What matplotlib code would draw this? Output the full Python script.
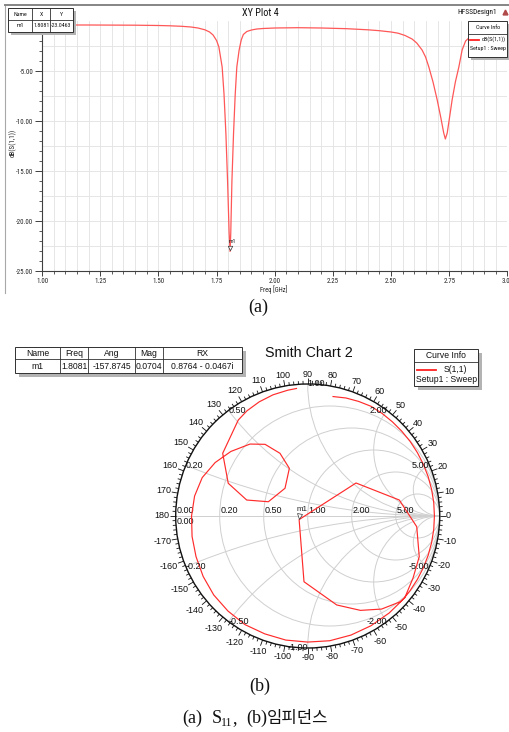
import numpy as np
import matplotlib
matplotlib.use("Agg")
import matplotlib.pyplot as plt
from matplotlib import font_manager
from matplotlib.patches import Circle, Rectangle
from matplotlib.collections import LineCollection
from matplotlib.ticker import MultipleLocator, FormatStrFormatter, FuncFormatter
from matplotlib.transforms import offset_copy

# ---------------- data ----------------
freq_ghz = [1.00, 1.10, 1.20, 1.30, 1.40, 1.50, 1.55, 1.60, 1.64, 1.67, 1.70, 1.72,
            1.735, 1.75, 1.76, 1.774, 1.782, 1.790, 1.797, 1.804, 1.8081, 1.811,
            1.816, 1.823, 1.830, 1.837, 1.847, 1.856, 1.865, 1.88, 1.90, 1.923,
            1.95, 2.00, 2.10, 2.20, 2.31, 2.40, 2.45, 2.50, 2.53, 2.56, 2.59, 2.61,
            2.633, 2.648, 2.662, 2.68, 2.698, 2.713, 2.726, 2.733, 2.741, 2.750,
            2.762, 2.776, 2.791, 2.805, 2.82, 2.85, 2.90, 2.95, 3.00]
s11_db = [-0.40, -0.40, -0.40, -0.41, -0.42, -0.45, -0.48, -0.53, -0.60, -0.70, -0.88, -1.10,
          -1.40, -1.95, -2.60, -4.60, -7.30, -11.2, -15.8, -21.2, -23.0463, -21.2,
          -16.0, -11.2, -7.4, -4.6, -2.9, -1.9, -1.35, -1.05, -0.90, -0.80,
          -0.75, -0.70, -0.67, -0.70, -0.77, -0.88, -0.97, -1.10, -1.22, -1.45, -1.80, -2.20,
          -2.90, -3.60, -4.60, -6.1, -7.9, -9.6, -11.2, -11.8, -11.2, -9.8,
          -7.9, -6.1, -4.6, -2.9, -2.0, -1.35, -0.95, -0.70, -0.55]
marker_name = "m1"
marker_freq = 1.8081
marker_db = -23.0463

# S11 trajectory on the Smith chart (reflection coefficient, real / imaginary)
smith_re = [0.192, 0.290, 0.386, 0.480, 0.564, 0.642, 0.713, 0.777, 0.831, 0.877, 0.913,
            0.939, 0.955, 0.960, 0.955, 0.939, 0.913, 0.877, 0.831, 0.777, 0.735, 0.700,
            0.560, 0.400, 0.220, -0.028, -0.065, 0.366, 0.694, 0.826, 0.845, 0.798, 0.735,
            0.617, 0.480, 0.328, 0.167, 0.000, -0.166, -0.325, -0.475, -0.604, -0.712,
            -0.792, -0.846, -0.876, -0.880, -0.857, -0.799, -0.701, -0.582, -0.437,
            -0.323, -0.210, -0.139, -0.172, -0.298, -0.462, -0.602, -0.644, -0.526,
            -0.460, -0.367, -0.263, -0.151, -0.085]
smith_im = [0.905, 0.894, 0.868, 0.831, 0.777, 0.713, 0.642, 0.564, 0.480, 0.390, 0.297,
            0.200, 0.100, 0.000, -0.100, -0.200, -0.297, -0.390, -0.480, -0.564, -0.617, -0.650,
            -0.705, -0.715, -0.674, -0.498, -0.027, 0.250, 0.121, -0.081, -0.308, -0.470, -0.620,
            -0.735, -0.831, -0.902, -0.945, -0.955, -0.940, -0.893, -0.823, -0.720, -0.598,
            -0.458, -0.308, -0.155, 0.000, 0.151, 0.291, 0.405, 0.489, 0.545,
            0.543, 0.475, 0.361, 0.210, 0.108, 0.121, 0.248, 0.475, 0.727,
            0.797, 0.865, 0.918, 0.953, 0.966]
marker_ang_deg = -157.8745
marker_mag = 0.0704

r_circles = [0.2, 0.5, 1.0, 2.0, 5.0]
x_arcs = [0.2, 0.5, 1.0, 2.0, 5.0, -0.2, -0.5, -1.0, -2.0, -5.0]
angle_marks = list(range(-170, 181, 10))

# ---------------- fonts ----------------
def pick(*names):
    for n in names:
        try:
            font_manager.findfont(font_manager.FontProperties(family=n), fallback_to_default=False)
            return n
        except Exception:
            continue
    return "DejaVu Sans"

NARROW = pick("Liberation Sans Narrow", "Arial Narrow", "Roboto Condensed", "Liberation Sans")
ARIAL = pick("Liberation Sans", "Arial", "DejaVu Sans")
SERIF = pick("Liberation Serif", "Times New Roman", "DejaVu Serif")
KOR = pick("Noto Sans CJK KR", "Noto Sans CJK SC", "DejaVu Sans")

W, H = 510, 732
fig = plt.figure(figsize=(W / 100, H / 100), dpi=100)
fig.patch.set_facecolor("white")
rend = fig.canvas.get_renderer()


def size_for(s, family, target_w, ref=10.0):
    t = fig.text(0, 0, s, fontsize=ref, family=family)
    w = t.get_window_extent(rend).width
    t.remove()
    return ref * target_w / w


# ---------------- (a) XY plot ----------------
ax = fig.add_axes([42 / W, 1 - 271 / H, (507.5 - 42) / W, 250 / H])
ax.set_xlim(1.0, 3.0)
ax.set_ylim(-25, 0)
ax.xaxis.set_major_locator(MultipleLocator(0.25))
ax.xaxis.set_minor_locator(MultipleLocator(0.05))
ax.yaxis.set_major_locator(MultipleLocator(5))
ax.yaxis.set_minor_locator(MultipleLocator(1))
ax.xaxis.set_major_formatter(FormatStrFormatter("%.2f"))
# the 0.00 label sits under the marker table in the reference, so it is not shown
ax.yaxis.set_major_formatter(FuncFormatter(lambda v, p: "" if abs(v) < 1e-9 else f"{v:.2f}"))
for xv in np.arange(1.05, 3.0, 0.05):
    ax.axvline(xv, color="#e2e2e2", lw=0.6, zorder=0)
for yv in np.arange(-22.5, 0, 2.5):
    ax.axhline(yv, color="#e2e2e2", lw=0.6, zorder=0)
for s in ["top", "right"]:
    ax.spines[s].set_visible(False)
for s in ["left", "bottom"]:
    ax.spines[s].set_color("#404040")
    ax.spines[s].set_linewidth(0.8)
tick_fs = size_for("-25.00", NARROW, 17.0)
ax.tick_params(which="both", direction="out", color="#404040", labelsize=tick_fs,
               labelcolor="#222222", labelfontfamily=NARROW)
ax.tick_params(axis="y", which="major", length=5, width=0.7, pad=1.2)
ax.tick_params(axis="y", which="minor", length=2.5, width=0.6)
ax.tick_params(axis="x", which="major", length=3.5, width=0.7, pad=1.8)
ax.tick_params(axis="x", which="minor", length=2, width=0.6)

ax.plot(freq_ghz, s11_db, color="#ff5757", lw=0.9, zorder=3)
tr = offset_copy(ax.transData, fig=fig, x=0, y=2.2, units="points")
ax.plot([marker_freq], [marker_db], marker="v", ms=3.2, mfc="white", mec="#333333",
        mew=0.5, transform=tr, zorder=4, clip_on=False)
ax.annotate(marker_name, (marker_freq, marker_db), xytext=(-1.2, 5.5),
            textcoords="offset points", ha="left", va="bottom",
            fontsize=tick_fs * 0.85, family=NARROW, color="#222222")

# ---------------- (b) Smith chart ----------------
CX, CY, RP = 307.7, 516.0, 132.0
L, Rr, T, B = 140, 480, 366, 672
sx = fig.add_axes([L / W, 1 - B / H, (Rr - L) / W, (B - T) / H])
sx.set_xlim((L - CX) / RP, (Rr - CX) / RP)
sx.set_ylim((CY - B) / RP, (CY - T) / RP)
sx.axis("off")
sx.patch.set_alpha(0)

gc = "#cfcfcf"
clip = Circle((0, 0), 1.0, transform=sx.transData)
for r in r_circles:
    c = Circle((r / (1 + r), 0), 1 / (1 + r), fill=False, ec=gc, lw=0.7, zorder=1)
    sx.add_patch(c)
for xv in x_arcs:
    c = Circle((1, 1 / xv), 1 / abs(xv), fill=False, ec=gc, lw=0.7, zorder=1)
    sx.add_patch(c)
    c.set_clip_path(clip)
sx.plot([-1, 1], [0, 0], color=gc, lw=0.7, zorder=1)
sx.add_patch(Circle((0, 0), 1.0, fill=False, ec="#111111", lw=1.0, zorder=3))

segs = []
for d in range(0, 360, 2):
    t = np.deg2rad(d)
    ln = 6.0 if d % 10 == 0 else 3.2
    r2 = 1 + ln / RP
    segs.append([(np.cos(t), np.sin(t)), (r2 * np.cos(t), r2 * np.sin(t))])
sx.add_collection(LineCollection(segs, colors="#111111", linewidths=0.6, zorder=3, clip_on=False))

lab_fs = 6.5
ang_texts = []
for a in angle_marks:
    t = np.deg2rad(a)
    tx = sx.text(np.cos(t) * 1.09, np.sin(t) * 1.09, f"{a}", ha="center", va="center",
                 fontsize=lab_fs, family=ARIAL, color="#111111")
    ang_texts.append((tx, t))
for tx, t in ang_texts:
    bb = tx.get_window_extent(rend)
    d = 138.0 + 0.5 * (bb.width * abs(np.cos(t)) + bb.height * 0.8 * abs(np.sin(t)))
    tx.set_position((np.cos(t) * d / RP, np.sin(t) * d / RP))

for r in r_circles:
    g = (r - 1) / (r + 1)
    sx.annotate(f"{r:.2f}", (g, 0), xytext=(0.8, 1.0), textcoords="offset points",
                ha="left", va="bottom", fontsize=lab_fs, family=ARIAL, color="#111111")
sx.annotate("0.00", (-1, 0), xytext=(0.5, 1.0), textcoords="offset points",
            ha="left", va="bottom", fontsize=lab_fs, family=ARIAL, color="#111111")
sx.annotate("0.00", (-1, 0), xytext=(0.5, -0.5), textcoords="offset points",
            ha="left", va="top", fontsize=lab_fs, family=ARIAL, color="#111111")
for xv in x_arcs:
    z = complex(0, xv)
    g = (z - 1) / (z + 1)
    if xv > 0:
        ha = "left" if xv <= 1 else "right"
    else:
        ha = "left" if abs(xv) < 1 else "right"
    sx.text(g.real, g.imag, f"{xv:.2f}", ha=ha, va="center", fontsize=lab_fs,
            family=ARIAL, color="#111111", zorder=6)

sx.plot(smith_re, smith_im, color="#ff2b2b", lw=0.85, zorder=5)
gm = marker_mag * np.exp(1j * np.deg2rad(marker_ang_deg))
tr2 = offset_copy(sx.transData, fig=fig, x=0, y=2.2, units="points")
sx.plot([gm.real], [gm.imag], marker="v", ms=3.6, mfc="white", mec="#333333", mew=0.5,
        transform=tr2, zorder=7)
sx.annotate(marker_name, (gm.real, gm.imag), xytext=(1.8, 5.0), textcoords="offset points",
            ha="center", va="bottom", fontsize=5.8, family=ARIAL, color="#222222")

# ---------------- overlay (pixel coordinates) ----------------
ov = fig.add_axes([0, 0, 1, 1])
ov.set_xlim(0, W)
ov.set_ylim(H, 0)
ov.axis("off")
ov.patch.set_alpha(0)
ov.set_zorder(10)


def draw_table(cols, rows, cells, fs, fam, sh=3.5):
    x0, x1, y0, y1 = cols[0], cols[-1], rows[0], rows[-1]
    ov.add_patch(Rectangle((x0 + sh, y0 + sh), x1 - x0, y1 - y0, fc="#b3b3b3", ec="none", zorder=2))
    ov.add_patch(Rectangle((x0, y0), x1 - x0, y1 - y0, fc="white", ec="#303030", lw=0.7, zorder=3))
    for c in cols[1:-1]:
        ov.plot([c, c], [y0, y1], color="#303030", lw=0.6, zorder=4)
    for rr in rows[1:-1]:
        ov.plot([x0, x1], [rr, rr], color="#303030", lw=0.6, zorder=4)
    for i, row in enumerate(cells):
        yc = (rows[i] + rows[i + 1]) / 2
        for j, s in enumerate(row):
            xc = (cols[j] + cols[j + 1]) / 2
            ov.text(xc, yc, s, ha="center", va="center", fontsize=fs, family=fam,
                    color="#111111", zorder=5)


def draw_legend(x0, y0, x1, y1, ysep, head_fs, fam, line_y, line_x0, line_x1, name, name_x,
                setup_y, sh=4):
    ov.add_patch(Rectangle((x0 + sh, y0 + sh), x1 - x0, y1 - y0, fc="#b3b3b3", ec="none", zorder=2))
    ov.add_patch(Rectangle((x0, y0), x1 - x0, y1 - y0, fc="white", ec="#303030", lw=0.7, zorder=3))
    ov.plot([x0, x1], [ysep, ysep], color="#303030", lw=0.6, zorder=4)
    xc = (x0 + x1) / 2
    ov.text(xc, (y0 + ysep) / 2, "Curve Info", ha="center", va="center", fontsize=head_fs,
            family=fam, color="#111111", zorder=5)
    ov.plot([line_x0, line_x1], [line_y, line_y], color="#ff2020", lw=1.3, zorder=5)
    ov.text(name_x, line_y, name, ha="center", va="center", fontsize=head_fs, family=fam,
            color="#111111", zorder=5)
    ov.text(xc, setup_y, "Setup1 : Sweep", ha="center", va="center", fontsize=head_fs,
            family=fam, color="#111111", zorder=5)


# frame of the HFSS window
ov.plot([5, 5], [5, 293], color="#a8a8a8", lw=0.8, zorder=1)
ov.plot([5, W], [5, 5], color="#858585", lw=1.4, zorder=1)

ov.text(260, 13, "XY Plot 4", ha="center", va="center",
        fontsize=size_for("XY Plot 4", NARROW, 36.7), family=NARROW, color="#111111")
ov.text(477.5, 13, "HFSSDesign1", ha="center", va="center",
        fontsize=size_for("HFSSDesign1", NARROW, 39), family=NARROW, color="#111111")
ov.plot([505], [11.5], marker="^", ms=3.5, color="#b04a4a", zorder=5)

tab_fs = size_for("-23.0463", NARROW, 20.5)
draw_table([8.3, 32.3, 50.0, 72.7], [8.3, 20.0, 31.7],
           [["Name", "X", "Y"], [marker_name, f"{marker_freq:.4f}", f"{marker_db:.4f}"]],
           tab_fs, NARROW, sh=3)

leg_fs = size_for("Setup1 : Sweep", NARROW, 36)
draw_legend(468, 21, 507.5, 57, 34, leg_fs, NARROW, 39.5, 470, 479.5, "dB(S(1,1))", 493.5, 48.5, sh=3)

ov.text(274, 289.5, "Freq [GHz]", ha="center", va="center",
        fontsize=size_for("Freq [GHz]", NARROW, 27.5), family=NARROW, color="#222222")
ov.text(13, 143, "dB(S(1,1))", ha="center", va="center", rotation=90,
        fontsize=size_for("dB(S(1,1))", NARROW, 28), family=NARROW, color="#222222")

ov.text(258, 307, "(a)", ha="center", va="center", fontsize=13, family=SERIF, color="#111111")

# Smith chart decorations
zm = (1 + gm) / (1 - gm)
rx_txt = f"{zm.real:.4f} - {abs(zm.imag):.4f}i"
draw_table([15, 60, 88.3, 135, 163.3, 241.7], [346.7, 359.3, 373.3],
           [["Name", "Freq", "Ang", "Mag", "RX"],
            [marker_name, f"{marker_freq:.4f}", f"{marker_ang_deg:.4f}", f"{marker_mag:.4f}", rx_txt]],
           6.2, ARIAL, sh=4)
ov.text(309, 353.3, "Smith Chart 2", ha="center", va="center",
        fontsize=size_for("Smith Chart 2", ARIAL, 88), family=ARIAL, color="#111111")
draw_legend(414, 349.3, 478.3, 385.7, 361.7, 6.2, ARIAL, 370, 416.7, 436, "S(1,1)", 455,
            379.5, sh=4)

ov.text(260, 686, "(b)", ha="center", va="center", fontsize=13, family=SERIF, color="#111111")

# caption: (a) S11, (b)임피던스
base = 723
ov.text(182.7, base, "(a)", ha="left", va="baseline", fontsize=13, family=SERIF, color="#111111")
ov.text(211.7, base, "S", ha="left", va="baseline", fontsize=13, family=SERIF, color="#111111")
ov.text(221.0, base + 2.5, "11", ha="left", va="baseline", fontsize=8.5, family=SERIF, color="#111111")
ov.text(232.5, base, ",", ha="left", va="baseline", fontsize=13, family=SERIF, color="#111111")
ov.text(246.7, base, "(b)", ha="left", va="baseline", fontsize=13, family=SERIF, color="#111111")
ov.text(266.7, base, "임피던스", ha="left", va="baseline", fontsize=12, family=[KOR, "DejaVu Sans"],
        color="#111111")

fig.savefig("out.png", dpi=100, facecolor="white")
